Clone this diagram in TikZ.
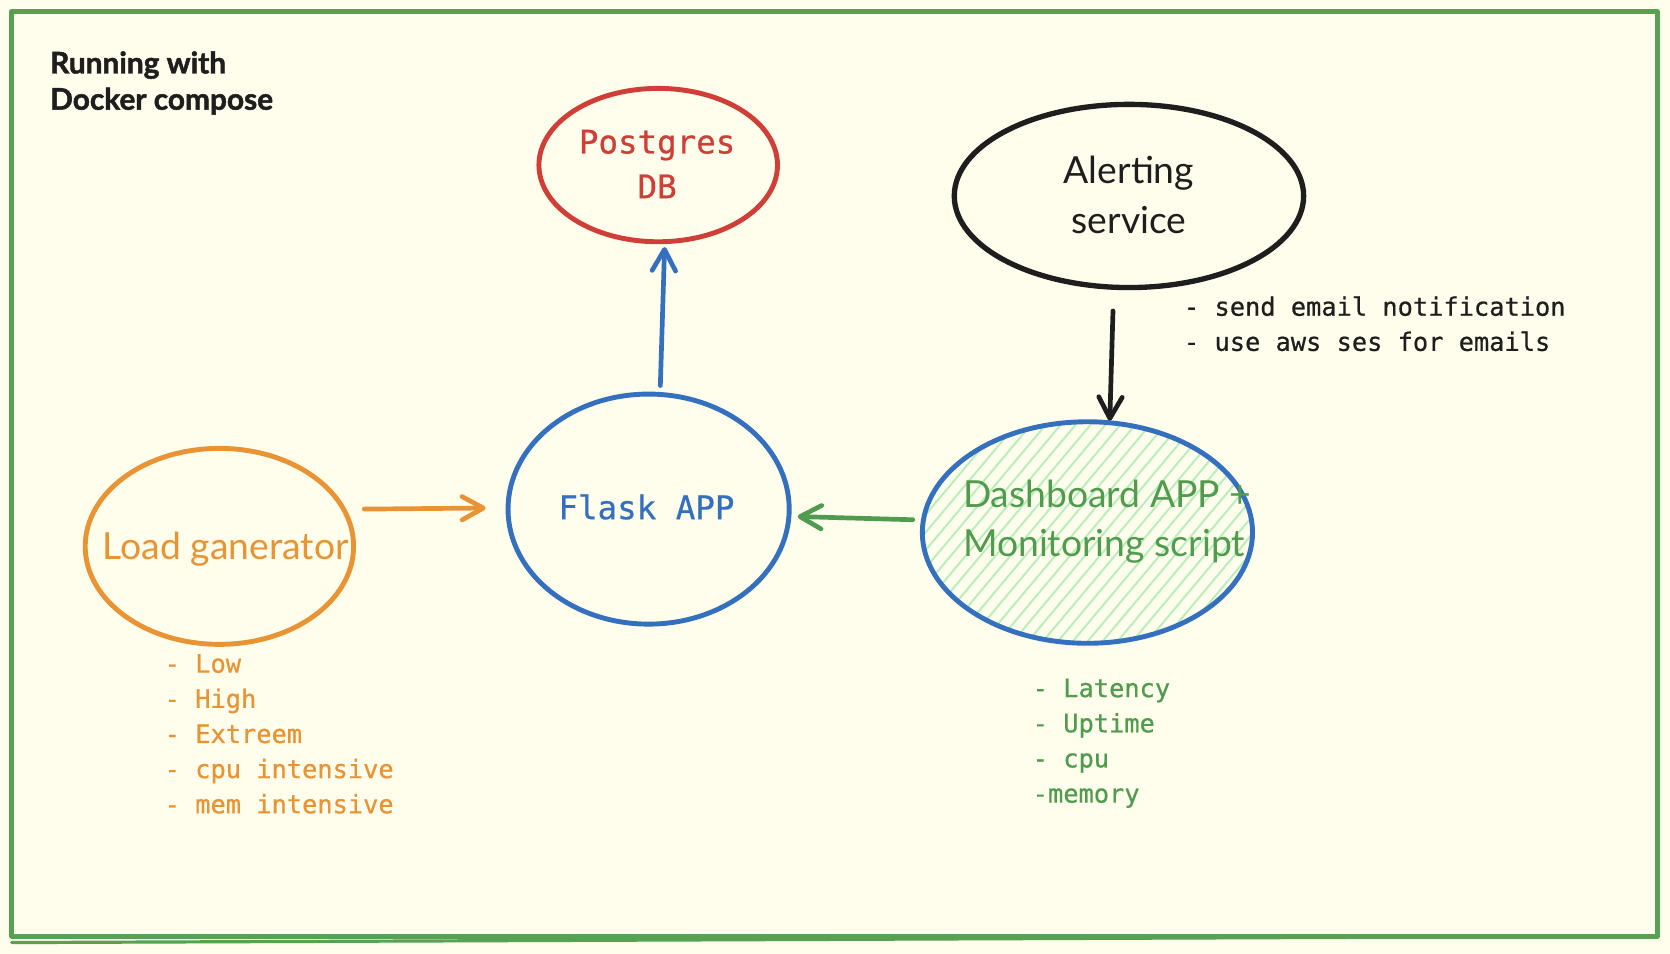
\documentclass[tikz,border=0pt]{standalone}
\usepackage{fontspec}
\setmainfont{Lato}
\newfontfamily\monofont{DejaVu Sans Mono}[FakeBold=0.6]
\newfontfamily\titlefont{Lato}[BoldFeatures={FakeBold=1.6}]
\usetikzlibrary{shapes.geometric,arrows.meta}
\definecolor{bg}{RGB}{255,253,235}
\definecolor{framegreen}{RGB}{88,160,82}
\definecolor{pgred}{RGB}{208,62,56}
\definecolor{appblue}{RGB}{52,112,190}
\definecolor{loadorange}{RGB}{232,148,52}
\definecolor{textgreen}{RGB}{80,155,78}
\definecolor{hatchgreen}{RGB}{184,238,190}
\definecolor{ink}{RGB}{30,30,30}
\tikzset{
  blob/.style={ellipse, draw, line width=4.6pt, inner sep=0pt, outer sep=0pt},
  arr/.style={line width=4.4pt, line cap=round, line join=round,
    -{Straight Barb[length=20pt,width=22pt,round]}},
  sanslabel/.style={font=\fontsize{35}{46.5}\selectfont, align=center, inner sep=0pt},
  monolabel/.style={font=\monofont\fontsize{30.5}{42}\selectfont, align=center, inner sep=0pt},
  notes/.style={font=\monofont\fontsize{23.8}{33}\selectfont, align=left, anchor=north west, inner sep=0pt},
  hatch/.style={hatchgreen, line width=1.8pt, line cap=round},
}
\begin{document}
\begin{tikzpicture}[x=1pt,y=-1pt]
\useasboundingbox[fill=bg] (0,0) rectangle (1568,895.7);
\draw[framegreen, line width=4.5pt, line join=round] (11,11) rectangle (1556,879);
\draw[framegreen, line width=3pt, line cap=round] (11,885) -- (1556,879);

\node[anchor=north west, inner sep=0pt, align=left, text=ink,
      font=\titlefont\fontsize{28}{34}\selectfont\bfseries] (title) at (47,48) {Running with\\Docker compose};

% hatch fill of the dashboard ellipse
\begin{scope}
  \clip (1021,500) ellipse [x radius=155, y radius=104];
  \foreach \s in {-320,-306,...,320}
    \draw[hatch] ({1021+\s-128.6},653.2) -- ({1021+\s+128.6},346.8);
\end{scope}

% shapes
\node[blob, draw=pgred, minimum width=224pt, minimum height=144pt] (pg) at (618,155) {};
\node[blob, draw=ink, line width=5pt, minimum width=328pt, minimum height=172pt] (alert) at (1060,184) {};
\node[blob, draw=appblue, minimum width=264pt, minimum height=216pt] (flask) at (609,478) {};
\node[blob, draw=loadorange, minimum width=252pt, minimum height=184pt] (load) at (206,513) {};
\node[blob, draw=appblue, minimum width=310pt, minimum height=208pt] (dash) at (1021,500) {};

% labels
\node[monolabel, text=pgred] (pgtext) at (617,154) {Postgres\\DB};
\node[sanslabel, text=ink] (alerttext) at (1060,183) {Alerting\\service};
\node[monolabel, text=appblue] (flasktext) at (607,476) {Flask APP};
\node[sanslabel, text=loadorange] (loadtext) at (212,516) {Load ganerator};
\node[sanslabel, text=textgreen, align=left, anchor=west] (dashtext) at (904,490) {Dashboard APP +\\Monitoring script};

% notes
\node[notes, text=ink] (alertnotes) at (1111.5,278) {- send email notification\\- use aws ses for emails};
\node[notes, text=loadorange] (loadnotes) at (154.5,614) {- Low\\- High\\- Extreem\\- cpu intensive\\- mem intensive};
\node[notes, text=textgreen] (dashnotes) at (969.5,637) {- Latency\\- Uptime\\- cpu\\-memory};

% connectors
\draw[arr, appblue] ([xshift=11pt,yshift=8pt]flask.north) -- ([xshift=6pt,yshift=-5pt]pg.south);
\draw[arr, loadorange] ([xshift=10pt,yshift=35pt]load.east) -- ([xshift=-21pt,yshift=1pt]flask.west);
\draw[arr, textgreen] ([xshift=-9pt,yshift=12pt]dash.west) -- ([xshift=8pt,yshift=-7pt]flask.east);
\draw[arr, ink] ([xshift=-15pt,yshift=-22pt]alert.south) -- ([xshift=21pt,yshift=1pt]dash.north);
\end{tikzpicture}
\end{document}
